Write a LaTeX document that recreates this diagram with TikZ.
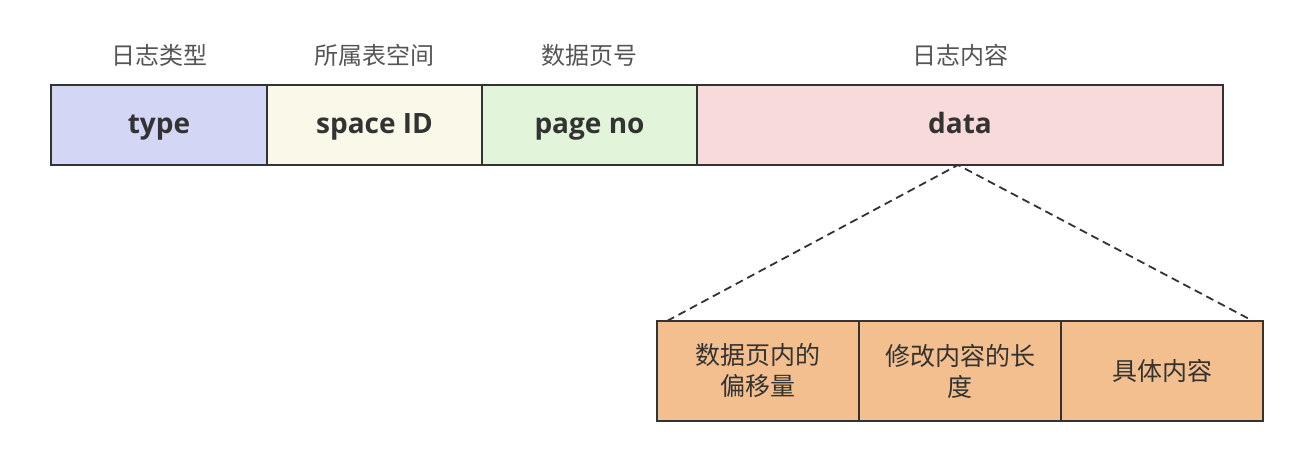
\documentclass[tikz,border=0pt]{standalone}
\usepackage{fontspec}
\setmainfont{Open Sans}
\newfontfamily\cjk{Noto Sans CJK SC}
\usetikzlibrary{positioning}
\definecolor{ink}{HTML}{333333}
\definecolor{capgray}{HTML}{555555}
\definecolor{typefill}{HTML}{D4D6F6}
\definecolor{spacefill}{HTML}{FAF9E9}
\definecolor{pagefill}{HTML}{E2F4D9}
\definecolor{datafill}{HTML}{F9DADA}
\definecolor{partfill}{HTML}{F3BF8E}

\tikzset{
  field/.style={draw=ink,line width=1.5pt,minimum height=80pt,inner sep=0pt,
    outer sep=0pt,text=ink,text height=23pt,text depth=6pt,
    font=\bfseries\fontsize{28}{32}\selectfont},
  caption/.style={text=capgray,inner sep=0pt,font=\cjk\fontsize{24}{28}\selectfont},
  part/.style={draw=ink,line width=1.5pt,fill=partfill,minimum width=202pt,
    minimum height=100pt,inner sep=0pt,outer sep=0pt,text=ink,align=center,
    font=\cjk\fontsize{25}{31}\selectfont}
}

\begin{document}
\begin{tikzpicture}[x=1pt,y=1pt]
\useasboundingbox (0,0) rectangle (1306,455);

% log record header
\node[field,fill=typefill,minimum width=216pt,anchor=north west] (type) at (51,370) {type};
\node[field,fill=spacefill,minimum width=215pt,right=0pt of type] (space) {space ID};
\node[field,fill=pagefill,minimum width=215pt,right=0pt of space] (page) {page no};
\node[field,fill=datafill,minimum width=526pt,right=0pt of page] (data) {data};

% captions
\node[caption] (typecap) at ([yshift=30pt]type.north) {日志类型};
\node[caption] (spacecap) at ([yshift=30pt]space.north) {所属表空间};
\node[caption] (pagecap) at ([yshift=30pt]page.north) {数据页号};
\node[caption] (datacap) at ([yshift=30pt]data.north) {日志内容};

% content of data
\node[part,anchor=north west] (offset) at (657,134) {数据页内的\\偏移量};
\node[part,right=0pt of offset] (length) {修改内容的长\\度};
\node[part,right=0pt of length] (body) {具体内容};

\coordinate (apex) at ([xshift=-2pt]data.south);
\coordinate (lfoot) at ([xshift=10pt]offset.north west);
\coordinate (rfoot) at ([xshift=-10pt]body.north east);
\draw[ink,line width=1.8pt,dash pattern=on 8pt off 5pt] (lfoot) -- (apex) -- (rfoot);
\end{tikzpicture}
\end{document}
